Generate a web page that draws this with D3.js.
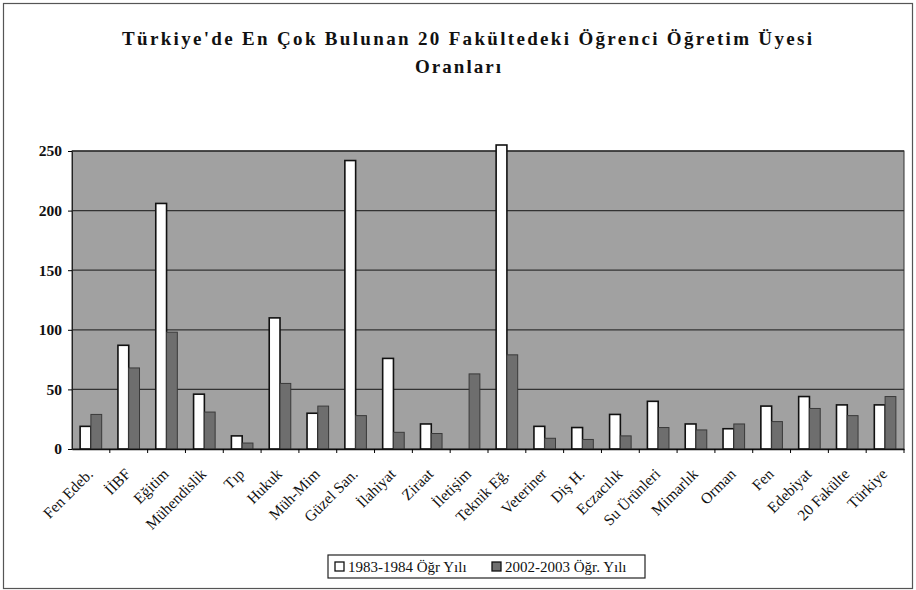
<!DOCTYPE html>
<html>
<head>
<meta charset="utf-8">
<script src="https://cdn.jsdelivr.net/npm/d3@7"></script>
<style>
  body { margin: 0; background: #fff; }
  text { font-family: "Liberation Serif", "DejaVu Serif", serif; fill: #111; }
</style>
</head>
<body>
<div id="chart"></div>
<script>
// data
var categories = ["Fen Edeb.", "İİBF", "Eğitim", "Mühendislik", "Tıp", "Hukuk", "Müh-Mim",
  "Güzel San.", "İlahiyat", "Ziraat", "İletişim", "Teknik Eğ.", "Veteriner", "Diş H.",
  "Eczacılık", "Su Ürünleri", "Mimarlık", "Orman", "Fen", "Edebiyat", "20 Fakülte", "Türkiye"];
var seriesNames = ["1983-1984 Öğr  Yılı", "2002-2003 Öğr. Yılı"];
var values1983 = [19, 87, 206, 46, 11, 110, 30, 242, 76, 21, 0, 420, 19, 18, 29, 40, 21, 17, 36, 44, 37, 37];
var values2002 = [29, 68, 98, 31, 5, 55, 36, 28, 14, 13, 63, 79, 9, 8, 11, 18, 16, 21, 23, 34, 28, 44];
var yTicks = [0, 50, 100, 150, 200, 250];

var svgWidth = 916, svgHeight = 590;
var margin = { top: 151, right: 12, bottom: 141, left: 72 };
var width = svgWidth - margin.left - margin.right;
var height = svgHeight - margin.top - margin.bottom;

var root = d3.select("#chart").append("svg")
  .attr("width", svgWidth)
  .attr("height", svgHeight);

// outer frame
root.append("rect")
  .attr("x", 3.5).attr("y", 3.5)
  .attr("width", svgWidth - 7).attr("height", svgHeight - 5)
  .attr("fill", "none").attr("stroke", "#555").attr("stroke-width", 1.2);

// title
root.append("text")
  .attr("x", 467).attr("y", 45)
  .attr("text-anchor", "middle")
  .attr("font-size", 19).attr("font-weight", "bold")
  .attr("textLength", 690).attr("lengthAdjust", "spacing")
  .text("Türkiye'de En Çok Bulunan 20 Fakültedeki Öğrenci Öğretim Üyesi");
root.append("text")
  .attr("x", 458).attr("y", 73)
  .attr("text-anchor", "middle")
  .attr("font-size", 19).attr("font-weight", "bold")
  .attr("textLength", 86).attr("lengthAdjust", "spacing")
  .text("Oranları");

var svg = root.append("g")
  .attr("transform", `translate(${margin.left}, ${margin.top})`);

var x0 = d3.scaleBand()
  .domain(categories)
  .range([0, width])
  .paddingInner(0.43)
  .paddingOuter(0.215);

var x1 = d3.scaleBand()
  .domain(seriesNames)
  .range([0, x0.bandwidth()]);

var yScale = d3.scaleLinear()
  .domain([0, 250])
  .range([height, 0])
  .clamp(true);

// plot background
svg.append("rect")
  .attr("width", width).attr("height", height)
  .attr("fill", "#a1a1a1")
  .attr("stroke", "#333").attr("stroke-width", 1);

// gridlines
svg.append("g")
  .selectAll("line")
  .data(yTicks.filter(d => d > 0))
  .enter()
  .append("line")
  .attr("x1", 0).attr("x2", width)
  .attr("y1", d => yScale(d)).attr("y2", d => yScale(d))
  .attr("stroke", "#333").attr("stroke-width", 1.3);

// y axis
var yAxis = svg.append("g")
  .call(d3.axisLeft(yScale).tickValues(yTicks).tickSize(4).tickPadding(6));
yAxis.select(".domain").attr("stroke", "#222");
yAxis.selectAll("text").attr("font-size", 15.5).attr("font-weight", "bold");

// bars
var fills = ["#ffffff", "#6e6e6e"];
var groups = svg.selectAll("g.cat")
  .data(categories.map((c, i) => ({ cat: c, vals: [values1983[i], values2002[i]] })))
  .enter()
  .append("g")
  .attr("class", "cat")
  .attr("transform", d => `translate(${x0(d.cat)},0)`);

groups.selectAll("rect")
  .data(d => d.vals.map((v, j) => ({ name: seriesNames[j], v: v, j: j })))
  .enter()
  .append("rect")
  .filter(d => d.v > 0)
  .attr("x", d => x1(d.name))
  .attr("y", d => d.v > 250 ? yScale(d.v) - 6 : yScale(d.v))
  .attr("width", x1.bandwidth())
  .attr("height", d => height - yScale(d.v) + (d.v > 250 ? 6 : 0))
  .attr("fill", d => fills[d.j])
  .attr("stroke", d => d.j === 0 ? "#111" : "#3a3a3a")
  .attr("stroke-width", d => d.j === 0 ? 1.6 : 1);

// x axis
var xAxis = svg.append("g")
  .attr("transform", `translate(0, ${height})`)
  .call(d3.axisBottom(x0).tickSize(4).tickSizeOuter(0));
xAxis.select(".domain").attr("stroke", "#111").attr("stroke-width", 1.6);
xAxis.selectAll(".tick line")
  .attr("transform", `translate(${x0.step() / 2},0)`);
xAxis.selectAll("text")
  .attr("font-size", 15.5)
  .attr("text-anchor", "end")
  .attr("x", 0).attr("y", 0).attr("dy", 0)
  .attr("transform", "translate(3,26) rotate(-45)");

// legend
var legend = root.append("g").attr("transform", "translate(328, 555)");
legend.append("rect")
  .attr("width", 317).attr("height", 23)
  .attr("fill", "#fff").attr("stroke", "#222").attr("stroke-width", 1.2);
var legendX = [7, 164];
seriesNames.forEach(function(name, i) {
  legend.append("rect")
    .attr("x", legendX[i]).attr("y", 7)
    .attr("width", 9).attr("height", 9)
    .attr("fill", fills[i]).attr("stroke", "#111").attr("stroke-width", 1.3);
  legend.append("text")
    .attr("x", legendX[i] + 13).attr("y", 17)
    .attr("font-size", 15)
    .text(name);
});
</script>
</body>
</html>
